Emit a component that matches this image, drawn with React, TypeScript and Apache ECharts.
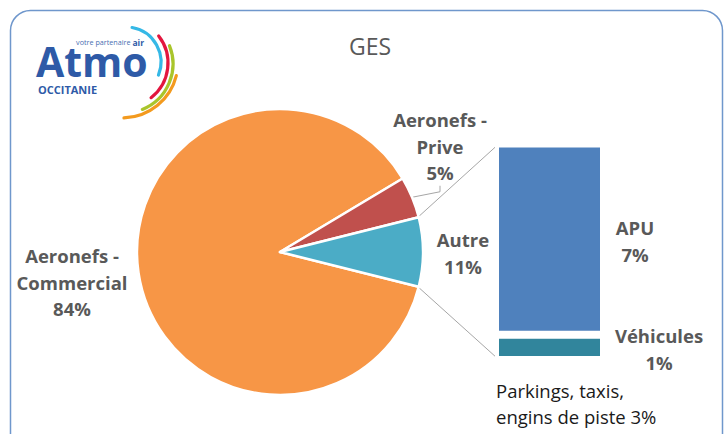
import React, { useEffect, useRef } from 'react';
import * as echarts from 'echarts';

// ---- data ----
const titleText = 'GES';
const pieNames = ['Aeronefs -\nCommercial', 'Aeronefs -\nPrive', 'Autre'];
const pieValues = [84, 4.5, 7.5];
const piePercentLabels = [84, 5, 11];
const pieColors = ['#F79646', '#C0504D', '#4BACC6'];

const barCategory = ['Autre'];
const barNames = ['Parkings, taxis,\nengins de piste', 'Véhicules', 'APU'];
const barValues = [0, 0.95, 7.2];
const barPercentLabels = [3, 1, 7];
const barColors = ['#9BBB59', '#31859C', '#4F81BD'];

// ---- layout ----
const FONT = '"Open Sans", "Noto Sans", sans-serif';
const LABEL_COLOR = '#595959';
const PIE_CENTER = [280, 252];
const PIE_R = 143;
const GRID = { left: 495, top: 143.5, width: 109, height: 216.5 };
const BAR_BORDER = 4;
const pieLabelPos = [
  { x: 72, y: 282, align: 'center' },
  { x: 440, y: 146, align: 'center' },
  { x: 463, y: 253, align: 'center' },
];
const barLabelPos = [
  { x: 496, y: 403, align: 'left' },
  { x: 659, y: 349, align: 'center' },
  { x: 635, y: 241, align: 'center' },
];

export default function App() {
  const ref = useRef<HTMLDivElement>(null);
  useEffect(() => {
    if (!ref.current) return;
    const chart = echarts.init(ref.current, undefined, { renderer: 'svg' });
    const pieTotal = pieValues.reduce((a, b) => a + b, 0);
    const barTotal = barValues.reduce((a, b) => a + b, 0);
    const autreAngle = (pieValues[2] / pieTotal) * 360;

    const boldLabel = {
      fontFamily: FONT,
      fontSize: 18.5,
      fontWeight: 'bold' as const,
      color: LABEL_COLOR,
      lineHeight: 26.5,
    };

    chart.setOption({
      animation: false,
      backgroundColor: '#ffffff',
      grid: GRID,
      xAxis: { type: 'category', data: barCategory, show: false },
      yAxis: { type: 'value', min: 0, max: barTotal, show: false },
      series: [
        {
          type: 'pie',
          center: PIE_CENTER,
          radius: PIE_R,
          startAngle: -autreAngle / 2,
          clockwise: true,
          avoidLabelOverlap: false,
          itemStyle: { borderColor: '#ffffff', borderWidth: 2.5 },
          label: {
            show: true,
            position: 'outside',
            ...boldLabel,
            formatter: (p: any) => `${p.name}\n${piePercentLabels[p.dataIndex]}%`,
          },
          labelLine: { show: false },
          labelLayout: (p: any) => {
            const pos = pieLabelPos[p.dataIndex];
            return { x: pos.x, y: pos.y, align: pos.align, verticalAlign: 'middle' };
          },
          data: pieNames.map((n, i) => ({
            name: n,
            value: pieValues[i],
            itemStyle: { color: pieColors[i] },
            labelLine:
              i === 1
                ? { show: true, length: 6, length2: 6, lineStyle: { color: '#A6A6A6', width: 1 } }
                : { show: false },
          })),
        },
        ...barNames.map((n, i) => ({
          type: 'bar',
          name: n,
          stack: 'autre',
          barWidth: '100%',
          data: [barValues[i]],
          itemStyle:
            barValues[i] > 0
              ? { color: barColors[i], borderColor: '#ffffff', borderWidth: BAR_BORDER }
              : { color: 'rgba(0,0,0,0)', borderWidth: 0 },
          label: {
            show: true,
            position: 'inside',
            ...(i === 0
              ? { fontFamily: FONT, fontSize: 18.5, color: '#1A1A1A', lineHeight: 26 }
              : boldLabel),
            formatter: () => `${n}${i === 0 ? ' ' : '\n'}${barPercentLabels[i]}%`,
          },
          labelLayout: () => {
            const pos = barLabelPos[i];
            return { x: pos.x, y: pos.y, align: pos.align, verticalAlign: 'middle' };
          },
        })),
      ],
    });

    // connector lines from the "Autre" slice to the bar
    const half = ((autreAngle / 2) * Math.PI) / 180;
    const rimX = PIE_CENTER[0] + (PIE_R - 1) * Math.cos(half);
    const rimTop = PIE_CENTER[1] - (PIE_R - 1) * Math.sin(half);
    const rimBot = PIE_CENTER[1] + (PIE_R - 1) * Math.sin(half);
    const topPt = chart.convertToPixel({ gridIndex: 0 }, [barCategory[0], barTotal]) as number[];
    const botPt = chart.convertToPixel({ gridIndex: 0 }, [barCategory[0], 0]) as number[];
    const barLeft = GRID.left + BAR_BORDER / 2;

    const arc = (cx: number, cy: number, r: number, a0: number, a1: number, color: string) => ({
      type: 'arc',
      shape: { cx, cy, r, startAngle: (a0 * Math.PI) / 180, endAngle: (a1 * Math.PI) / 180 },
      style: { stroke: color, lineWidth: 3.2, fill: 'none', lineCap: 'round' },
    });

    chart.setOption({
      graphic: [
        {
          type: 'rect',
          shape: { x: 10.5, y: 10.5, width: 712, height: 445, r: 20 },
          style: { fill: 'none', stroke: '#6F97CC', lineWidth: 1.5 },
          silent: true,
        },
        {
          type: 'text',
          x: 370,
          y: 46,
          style: {
            text: titleText,
            fontFamily: FONT,
            fontSize: 23,
            fill: LABEL_COLOR,
            align: 'center',
            verticalAlign: 'middle',
          },
        },
        // logo
        {
          type: 'text',
          x: 36,
          y: 61,
          style: {
            text: 'Atmo',
            fontFamily: FONT,
            fontSize: 41,
            lineHeight: 30,
            fontWeight: 'bold',
            fill: '#2E5AA7',
            verticalAlign: 'middle',
            letterSpacing: -1,
          },
        },
        {
          type: 'text',
          x: 144,
          y: 42,
          style: {
            text: '{n|votre partenaire }{b|air}',
            align: 'right',
            verticalAlign: 'middle',
            rich: {
              n: { fontFamily: FONT, fontSize: 7.2, fill: '#4A6FB2', fontWeight: 'normal', lineHeight: 8 },
              b: { fontFamily: FONT, fontSize: 8.5, fill: '#2E5AA7', fontWeight: 'bold', lineHeight: 8 },
            },
          },
        },
        {
          type: 'text',
          x: 38,
          y: 89,
          style: {
            text: 'OCCITANIE',
            fontFamily: FONT,
            fontSize: 11,
            lineHeight: 10,
            fontWeight: 'bold',
            fill: '#2E5AA7',
            verticalAlign: 'middle',
          },
        },
        arc(126, 62, 35, -80, 22, '#35B8E6'),
        arc(124, 63, 44, -38, 52, '#E3163E'),
        arc(124, 64, 49, -22, 68, '#A9C52B'),
        arc(122, 62, 56, 14, 88, '#F39A1E'),
        // connectors
        {
          type: 'line',
          shape: { x1: rimX + 1, y1: rimTop - 1, x2: barLeft, y2: topPt[1] + BAR_BORDER / 2 },
          style: { stroke: '#A6A6A6', lineWidth: 1 },
        },
        {
          type: 'line',
          shape: { x1: rimX + 1, y1: rimBot + 1, x2: barLeft, y2: botPt[1] - BAR_BORDER / 2 },
          style: { stroke: '#A6A6A6', lineWidth: 1 },
        },
      ],
    });

    return () => chart.dispose();
  }, []);

  return (
    <div
      ref={ref}
      style={{ position: 'fixed', left: 0, top: 0, width: 725, height: 434, background: '#fff' }}
    />
  );
}
